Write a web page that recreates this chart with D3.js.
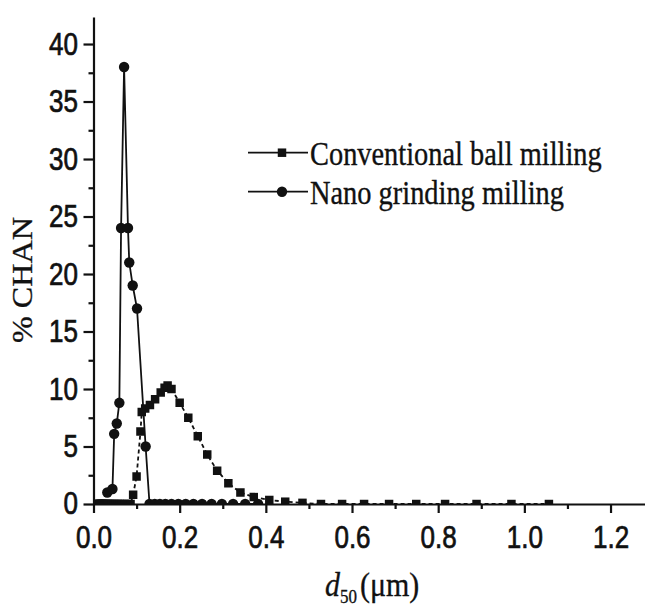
<!DOCTYPE html>
<html>
<head>
<meta charset="utf-8">
<script src="https://cdn.jsdelivr.net/npm/d3@7"></script>
<style>
  body { margin: 0; background: #fff; }
  svg { display: block; }
</style>
</head>
<body>
<div id="chart"></div>
<script>
// particle size channels (um) and % per channel
let convD = [0.010, 0.011, 0.012, 0.013, 0.015, 0.016, 0.018, 0.019, 0.021, 0.023,
  0.025, 0.028, 0.030, 0.033, 0.036, 0.039, 0.043, 0.047, 0.051, 0.056,
  0.061, 0.066, 0.072, 0.079, 0.086, 0.092, 0.100, 0.109, 0.112, 0.120,
  0.131, 0.143, 0.156, 0.165, 0.172, 0.181, 0.200, 0.220, 0.242, 0.264,
  0.287, 0.313, 0.341, 0.372, 0.408, 0.445, 0.485, 0.528, 0.577, 0.628,
  0.686, 0.749, 0.816, 0.889, 0.970, 1.057];
let convPct = [0, 0, 0, 0, 0, 0, 0, 0, 0, 0,
  0, 0, 0, 0, 0, 0, 0, 0, 0, 0,
  0, 0, 0, 0, 0, 0.8, 2.4, 6.3, 8.0, 8.3,
  8.6, 9.1, 9.7, 10.1, 10.3, 10.0, 8.8, 7.5, 5.9, 4.3,
  2.9, 1.8, 1.0, 0.6, 0.35, 0.2, 0.1, 0, 0, 0,
  0, 0, 0, 0, 0, 0];

let nanoD = [0.032, 0.044, 0.048, 0.054, 0.060, 0.064, 0.071, 0.080, 0.083, 0.091,
  0.101, 0.121, 0.130, 0.142, 0.154, 0.167, 0.181, 0.197, 0.214, 0.232,
  0.252, 0.274, 0.298, 0.324, 0.352, 0.382];
let nanoPct = [1.0, 1.3, 6.1, 7.0, 8.8, 24, 38, 24, 21, 19,
  17, 5.0, 0, 0, 0, 0, 0, 0, 0, 0,
  0, 0, 0, 0, 0, 0];

let xTicks = [0, 0.2, 0.4, 0.6, 0.8, 1.0, 1.2];
let xMinor = [0.1, 0.3, 0.5, 0.7, 0.9, 1.1];
let yTicks = [0, 5, 10, 15, 20, 25, 30, 35, 40];
let yMinor = [2.5, 7.5, 12.5, 17.5, 22.5, 27.5, 32.5, 37.5];

let seriesNames = ['Conventional ball milling', 'Nano grinding milling'];

let width = 645, height = 608;
let sansFont = '"Liberation Sans", Arial, sans-serif';
let serifFont = '"Liberation Serif", "Times New Roman", serif';
let ink = '#111';

let svg = d3.select('#chart')
  .append('svg')
  .attr('width', width)
  .attr('height', height);

let x = d3.scaleLinear().domain([0, 1.28]).range([93.5, 645]);
let y = d3.scaleLinear().domain([0, 42.35]).range([504, 17]);

// data is clipped to the plot frame, so markers sitting on zero show as bumps
svg.append('clipPath')
  .attr('id', 'plotclip')
  .append('rect')
  .attr('x', x(0))
  .attr('y', 0)
  .attr('width', width - x(0))
  .attr('height', y(0));

let plot = svg.append('g').attr('clip-path', 'url(#plotclip)');

let conv = convD.map(function(d, i) { return [d, convPct[i]]; });
let nano = nanoD.map(function(d, i) { return [d, nanoPct[i]]; });

let line = d3.line()
  .x(function(d) { return x(d[0]); })
  .y(function(d) { return y(d[1]); });

plot.append('path')
  .attr('d', line(conv))
  .attr('fill', 'none')
  .attr('stroke', ink)
  .attr('stroke-width', 1.8)
  .attr('stroke-dasharray', '4,3');

plot.append('path')
  .attr('d', line(nano))
  .attr('fill', 'none')
  .attr('stroke', ink)
  .attr('stroke-width', 1.8);

let square = d3.symbol().type(d3.symbolSquare).size(72);
let circle = d3.symbol().type(d3.symbolCircle).size(85);

plot.selectAll('.conv')
  .data(conv)
  .enter()
  .append('path')
  .attr('class', 'conv')
  .attr('d', square)
  .attr('transform', function(d) { return 'translate(' + x(d[0]) + ',' + y(d[1]) + ')'; })
  .attr('fill', ink);

plot.selectAll('.nano')
  .data(nano)
  .enter()
  .append('path')
  .attr('class', 'nano')
  .attr('d', circle)
  .attr('transform', function(d) { return 'translate(' + x(d[0]) + ',' + y(d[1]) + ')'; })
  .attr('fill', ink);

// axes
function styleAxis(g) {
  g.selectAll('path, line').attr('stroke', ink).attr('stroke-width', 2.2);
}

function styleLabels(sel) {
  sel.attr('font-family', sansFont)
    .attr('font-size', 26)
    .attr('fill', ink)
    .attr('stroke', ink)
    .attr('stroke-width', 0.6);
}

let xAxis = svg.append('g')
  .attr('transform', 'translate(0,' + y(0) + ')')
  .call(d3.axisBottom(x).tickValues(xTicks).tickSize(9).tickSizeOuter(0)
    .tickFormat(d3.format('.1f')));
styleAxis(xAxis);
xAxis.selectAll('text')
  .call(styleLabels)
  .attr('y', 36.5)
  .attr('dy', 0)
  .attr('transform', 'scale(1,1.2)');

svg.append('g')
  .attr('transform', 'translate(0,' + y(0) + ')')
  .call(d3.axisBottom(x).tickValues(xMinor).tickSize(5).tickFormat(''))
  .call(styleAxis)
  .select('.domain').remove();

let yAxis = svg.append('g')
  .attr('transform', 'translate(' + x(0) + ',0)')
  .call(d3.axisLeft(y).tickValues(yTicks).tickSize(10).tickSizeOuter(0));
styleAxis(yAxis);
yAxis.selectAll('text')
  .call(styleLabels)
  .attr('x', -15.5)
  .attr('transform', 'scale(1,1.2)');

svg.append('g')
  .attr('transform', 'translate(' + x(0) + ',0)')
  .call(d3.axisLeft(y).tickValues(yMinor).tickSize(5).tickFormat(''))
  .call(styleAxis)
  .select('.domain').remove();

// axis titles
svg.append('text')
  .attr('transform', 'translate(32,280) rotate(-90) scale(1.12,1)')
  .attr('text-anchor', 'middle')
  .attr('font-family', serifFont)
  .attr('font-size', 28.7)
  .attr('fill', ink)
  .attr('stroke', ink)
  .attr('stroke-width', 0.3)
  .text('% CHAN');

let xTitle = svg.append('text')
  .attr('transform', 'translate(325,596) scale(1,1.15)')
  .attr('font-family', serifFont)
  .attr('font-size', 30)
  .attr('fill', ink)
  .attr('stroke', ink)
  .attr('stroke-width', 0.3);
xTitle.append('tspan').attr('font-style', 'italic').text('d');
xTitle.append('tspan').attr('font-size', 17).attr('dy', 6).text('50');
xTitle.append('tspan').attr('dy', -6).attr('dx', 3).text('(\u03bcm)');

// legend
let legendRows = [152.7, 191.7];
let legendSymbols = [square, circle];
seriesNames.forEach(function(name, i) {
  let ly = legendRows[i];
  svg.append('line')
    .attr('x1', 248).attr('x2', 308)
    .attr('y1', ly).attr('y2', ly)
    .attr('stroke', ink)
    .attr('stroke-width', 1.8);
  svg.append('path')
    .attr('d', legendSymbols[i])
    .attr('transform', 'translate(282,' + ly + ')')
    .attr('fill', ink);
  svg.append('text')
    .attr('transform', 'translate(310,' + (ly + 12.3) + ') scale(1,1.15)')
    .attr('font-family', serifFont)
    .attr('font-size', 28.4)
    .attr('fill', ink)
    .attr('stroke', ink)
    .attr('stroke-width', 0.3)
    .text(name);
});
</script>
</body>
</html>
